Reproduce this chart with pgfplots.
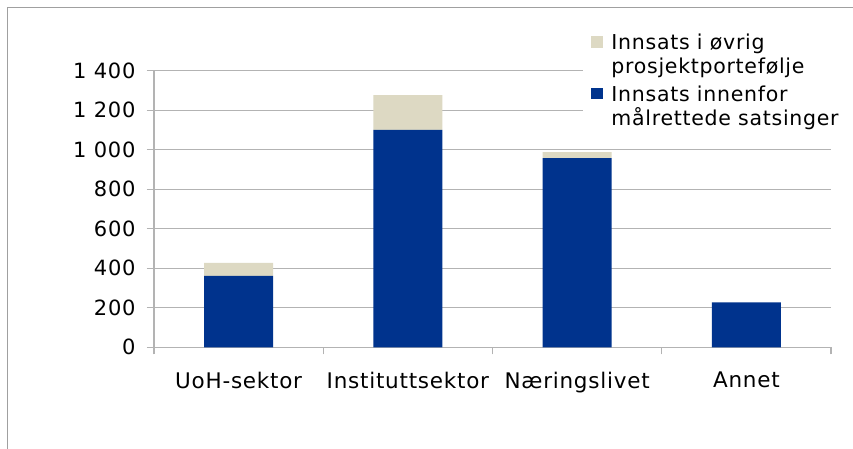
\documentclass[border=0pt]{standalone}
\usepackage{fontspec}
\setmainfont{DejaVu Sans}[LetterSpace=3.5]
\usepackage{pgfplots}
\pgfplotsset{compat=1.18}
\definecolor{barblue}{RGB}{0,51,141}
\definecolor{barbeige}{RGB}{221,217,195}
\definecolor{gridgray}{RGB}{179,179,179}
\definecolor{framegray}{RGB}{160,160,160}
\begin{document}
\begin{tikzpicture}
\useasboundingbox (0pt,0pt) rectangle (853pt,448pt);
\fill[white] (0pt,0pt) rectangle (853pt,448pt);
\draw[framegray, line width=1.2pt] (7.5pt,-10pt) rectangle (870pt,440.5pt);
\begin{axis}[
  at={(154pt,100.7pt)}, anchor=south west,
  scale only axis, width=677pt, height=276.6pt,
  ybar stacked, bar width=69pt,
  xmin=-0.5, xmax=3.5, ymin=0, ymax=1400,
  axis x line=bottom, axis y line=left,
  axis line style={draw=gridgray, line width=1.2pt, -},
  xtick={0,1,2,3},
  xticklabels={UoH-sektor,Instituttsektor,Næringslivet,Annet},
  major x tick style={draw=none},
  minor xtick={-0.5,0.5,1.5,2.5,3.5},
  minor x tick style={draw=gridgray, line width=1.2pt},
  minor tick length=7pt,
  ytick={0,200,400,600,800,1000,1200,1400},
  yticklabels={0,200,400,600,800,1 000,1 200,1 400},
  major tick length=7pt,
  tick align=outside,
  y tick style={draw=gridgray, line width=1.2pt},
  ymajorgrids, grid style={draw=gridgray, line width=1.2pt},
  tick label style={font=\fontsize{21.5}{25}\selectfont},
  yticklabel style={xshift=-8pt, font=\fontsize{21}{25}\selectfont},
  xticklabel style={yshift=-14pt},
  legend style={at={(0.634,1.1468)}, anchor=north west, draw=none, fill=white,
    font=\fontsize{20.5}{24}\selectfont,
    cells={anchor=west, align=left}, nodes={inner xsep=0pt, inner ysep=0pt},
    column sep=8pt, row sep=10.3pt, inner xsep=8pt, inner ysep=4pt},
  legend image code/.code={\fill[#1,draw=none] (0pt,7pt) rectangle (12pt,18.5pt);},
  reverse legend,
]
\addplot[fill=barblue, draw=none] coordinates {(0,361) (1,1100) (2,958) (3,228)};
\addplot[fill=barbeige, draw=none] coordinates {(0,66) (1,177) (2,30) (3,0)};
\legend{Innsats innenfor\\målrettede satsinger, Innsats i øvrig\\prosjektportefølje}
\end{axis}
\end{tikzpicture}
\end{document}
